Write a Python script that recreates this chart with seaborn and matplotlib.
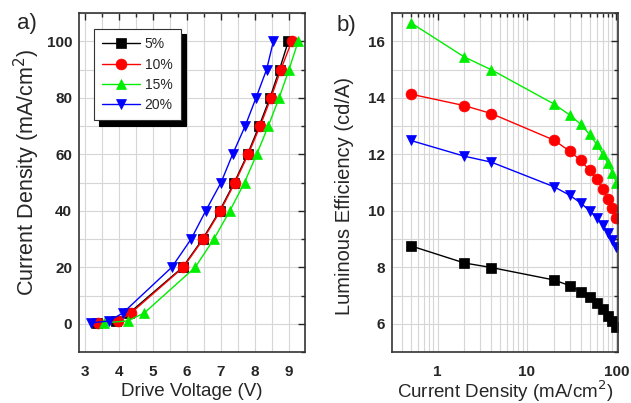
import numpy as np
import pandas as pd
import matplotlib
matplotlib.use('Agg')
import matplotlib.pyplot as plt
from matplotlib.ticker import MultipleLocator, LogLocator, NullFormatter, FixedLocator
import seaborn as sns

# Data
labels = ['5%', '10%', '15%', '20%']
colors = ['black', '#ff0000', '#00ee00', '#0000ff']
markers = ['s', 'o', '^', 'v']

# a) J-V curves
jv_j = [0.3, 1.0, 3.8, 20, 30, 40, 50, 60, 70, 80, 90, 100]
jv_v_5 = [3.35, 3.92, 4.30, 5.87, 6.46, 6.96, 7.39, 7.78, 8.12, 8.44, 8.72, 8.98]
jv_v_10 = [3.39, 3.96, 4.35, 5.89, 6.48, 6.98, 7.41, 7.80, 8.15, 8.47, 8.76, 9.08]
jv_v_15 = [3.56, 4.25, 4.74, 6.24, 6.79, 7.26, 7.69, 8.05, 8.39, 8.71, 9.00, 9.27]
jv_v_20 = [3.17, 3.71, 4.11, 5.55, 6.12, 6.55, 7.00, 7.34, 7.71, 8.03, 8.34, 8.54]

# b) efficiency vs current density
le_j = [0.5, 2, 4, 20, 30, 40, 50, 60, 70, 80, 90, 100]
le_5 = [8.76, 8.15, 7.99, 7.55, 7.35, 7.14, 6.94, 6.74, 6.51, 6.29, 6.08, 5.88]
le_10 = [14.13, 13.72, 13.44, 12.50, 12.11, 11.78, 11.43, 11.11, 10.78, 10.43, 10.11, 9.76]
le_15 = [16.66, 15.44, 14.99, 13.78, 13.39, 13.06, 12.70, 12.35, 12.02, 11.68, 11.35, 10.99]
le_20 = [12.49, 11.93, 11.72, 10.85, 10.55, 10.27, 10.00, 9.76, 9.50, 9.23, 8.97, 8.70]

jv_v = [jv_v_5, jv_v_10, jv_v_15, jv_v_20]
le = [le_5, le_10, le_15, le_20]

sns.set_style('white')
plt.rcParams['font.family'] = ['Liberation Sans', 'DejaVu Sans']

fig = plt.figure(figsize=(6.31, 4.03), dpi=100)
ax1 = fig.add_axes([79 / 631, 51 / 403, 226 / 631, 339 / 403])
ax2 = fig.add_axes([392 / 631, 51 / 403, 226 / 631, 339 / 403])

for v, lab, c, m in zip(jv_v, labels, colors, markers):
    df = pd.DataFrame({'V': v, 'J': jv_j})
    sns.lineplot(data=df, x='V', y='J', sort=False, estimator=None, ax=ax1,
                 color=c, marker=m, markersize=7.8, markeredgewidth=0.5,
                 markeredgecolor=c, linewidth=1.0, label=lab)

for y, lab, c, m in zip(le, labels, colors, markers):
    df = pd.DataFrame({'J': le_j, 'L': y})
    sns.lineplot(data=df, x='J', y='L', sort=False, estimator=None, ax=ax2,
                 color=c, marker=m, markersize=7.8, markeredgewidth=0.5,
                 markeredgecolor=c, linewidth=1.0, legend=False)

# axis setup
ax1.set_xlim(2.82, 9.47)
ax1.set_ylim(-10, 110)
ax1.xaxis.set_major_locator(MultipleLocator(1))
ax1.xaxis.set_minor_locator(MultipleLocator(0.5))
ax1.yaxis.set_major_locator(MultipleLocator(20))
ax1.yaxis.set_minor_locator(MultipleLocator(10))
ax1.set_xlabel('Drive Voltage (V)', fontsize=13.5, va='center')
ax1.set_ylabel('Current Density (mA/cm$^2$)', fontsize=15.5, va='center')
ax1.xaxis.set_label_coords(0.5, -0.117)
ax1.yaxis.set_label_coords(-0.23, 0.53)

ax2.set_xscale('log')
ax2.set_xlim(0.31, 104)
ax2.set_ylim(5, 17)
ax2.xaxis.set_major_locator(FixedLocator([1, 10, 100]))
ax2.xaxis.set_minor_locator(LogLocator(base=10, subs=np.arange(2, 10), numticks=20))
ax2.xaxis.set_minor_formatter(NullFormatter())
ax2.set_xticklabels(['1', '10', '100'])
ax2.yaxis.set_major_locator(MultipleLocator(2))
ax2.yaxis.set_minor_locator(MultipleLocator(1))
ax2.set_xlabel('Current Density (mA/cm$^2$)', fontsize=13.5, va='center')
ax2.set_ylabel('Luminous Efficiency (cd/A)', fontsize=14.5, va='center')
ax2.xaxis.set_label_coords(0.5, -0.117)
ax2.yaxis.set_label_coords(-0.208, 0.46)

for ax in (ax1, ax2):
    ax.grid(True, which='both', color='#d6d6d6', linewidth=0.8)
    ax.set_axisbelow(True)
    ax.tick_params(which='both', direction='in', top=True, right=True,
                   labelsize=11, width=1)
    ax.tick_params(axis='x', which='both', pad=9)
    ax.tick_params(axis='y', which='both', pad=5)
    ax.tick_params(which='major', length=5)
    ax.tick_params(which='minor', length=3)
    for lbl in ax.get_xticklabels() + ax.get_yticklabels():
        lbl.set_fontweight('bold')
    for s in ax.spines.values():
        s.set_color('#333333')
        s.set_linewidth(1.2)

leg = ax1.legend(loc='upper left', bbox_to_anchor=(0.066, 0.953), fontsize=10,
                 frameon=True, fancybox=False, borderaxespad=0,
                 shadow={'ox': 4, 'oy': -4, 'facecolor': 'black',
                         'edgecolor': 'black', 'alpha': 1},
                 handlelength=2.7, handletextpad=0.35, labelspacing=0.45,
                 borderpad=0.6)
leg.get_frame().set_edgecolor('#333333')
leg.get_frame().set_linewidth(0.8)
leg.get_frame().set_alpha(1)

fig.text(27 / 631, 1 - 23 / 403, 'a)', fontsize=16, ha='center', va='center')
fig.text(346 / 631, 1 - 25 / 403, 'b)', fontsize=16, ha='center', va='center')

fig.savefig('out.png', dpi=100)
